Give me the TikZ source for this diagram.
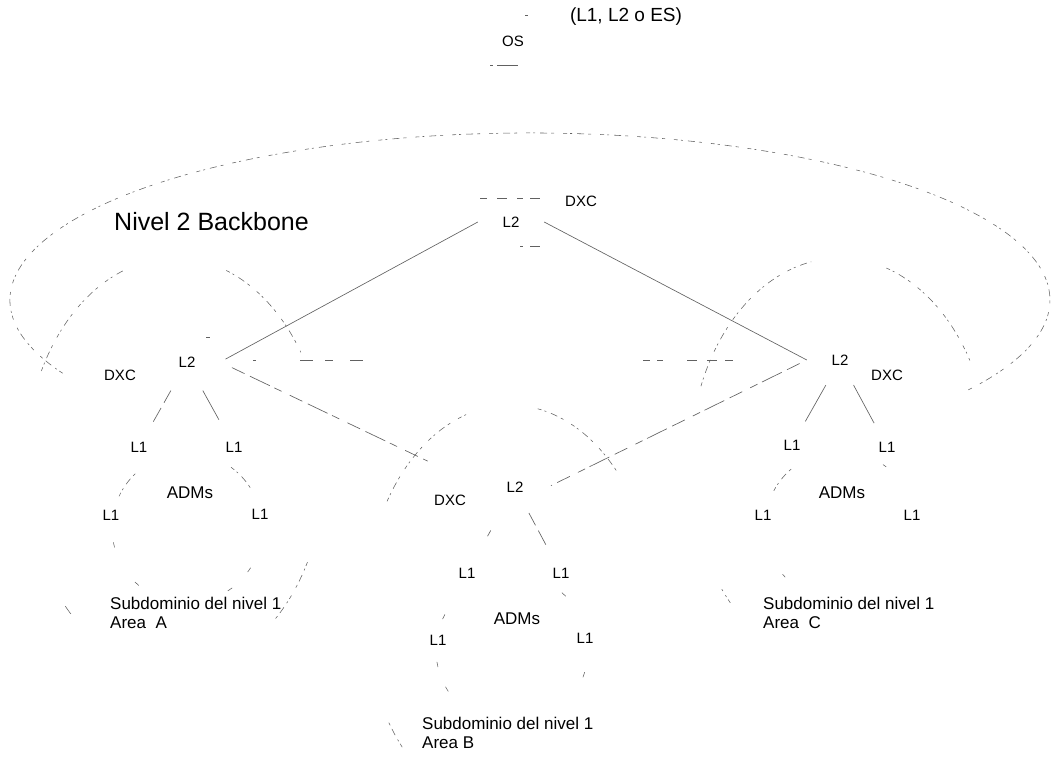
\documentclass[tikz,border=0pt]{standalone}
\usepackage{fontspec}
\setmainfont{Liberation Sans}
\newcommand\ellarc[7][ell]{\draw[#1] ({#2+#4*cos(#6)},{#3+#5*sin(#6)}) arc[start angle=#6,end angle=#7,x radius=#4,y radius=#5];}
\begin{document}
\begin{tikzpicture}[x=1pt,y=-1pt,
  ell/.style={draw=black!62, line width=0.55pt, dash pattern=on 4pt off 3pt on 2pt off 5pt on 7pt off 4pt on 3pt off 9pt},
  tick/.style={draw=black!62, line width=0.55pt},
  conn/.style={draw=black!62, line width=0.65pt},
  brk/.style={draw=black!62, line width=0.65pt, dash pattern=on 14pt off 6pt on 22pt off 5pt on 8pt off 9pt},
  frag/.style={draw=black!62, line width=0.55pt},
  lab/.style={inner sep=0pt, font=\fontsize{15}{17}\selectfont},
  big/.style={inner sep=0pt, font=\fontsize{17}{19}\selectfont},
  box/.style={inner sep=0pt, minimum width=66pt, minimum height=48pt, font=\fontsize{15}{17}\selectfont},
]
\useasboundingbox (0,0) rectangle (1055,757);

% ---- text nodes
\node[box, minimum width=48pt, minimum height=50pt] (os) at (513,41) {OS};
\node[inner sep=0pt, font=\fontsize{19}{21}\selectfont] (ann) at (626,17) {(L1, L2 o ES)};
\node[inner sep=0pt, font=\fontsize{25}{28}\selectfont, anchor=west] (nivel) at (114,222) {Nivel 2 Backbone};

\node[box] (tl2) at (511,222) {L2};
\node[lab] (tdxc) at (581,201) {DXC};
\node[box] (ll2) at (187,362) {L2};
\node[lab] (ldxc) at (120,375) {DXC};
\node[box] (rl2) at (840,360) {L2};
\node[lab] (rdxc) at (887,375) {DXC};
\node[box] (ml2) at (515,487) {L2};
\node[lab] (mdxc) at (450,500) {DXC};

\node[lab] (a1) at (139,447) {L1};
\node[lab] (a2) at (234,447) {L1};
\node[lab] (a3) at (111,515) {L1};
\node[lab] (a4) at (260,514) {L1};
\node[big] (aadm) at (190,493) {ADMs};
\node[lab] (b1) at (467,573) {L1};
\node[lab] (b2) at (561,573) {L1};
\node[lab] (b3) at (438,640) {L1};
\node[lab] (b4) at (585,638) {L1};
\node[big] (badm) at (517,619) {ADMs};
\node[lab] (c1) at (792,445) {L1};
\node[lab] (c2) at (887,447) {L1};
\node[lab] (c3) at (763,515) {L1};
\node[lab] (c4) at (912,515) {L1};
\node[big] (cadm) at (842,493) {ADMs};

\node[big, anchor=base west] (sa) at (110,609) {Subdominio del nivel 1};
\node[big, anchor=base west] (aa) at (110,628) {Area~~A};
\node[big, anchor=base west] (sb) at (422,729) {Subdominio del nivel 1};
\node[big, anchor=base west] (ab) at (422,748) {Area B};
\node[big, anchor=base west] (sc) at (763,609) {Subdominio del nivel 1};
\node[big, anchor=base west] (ac) at (763,628) {Area~~C};

% ---- backbone connectors
\draw[conn, shorten >=6pt] (tl2.west) -- (ll2.east);
\draw[conn] (tl2.east) -- (rl2.west);
\draw[brk, shorten <=13pt, shorten >=60pt] (ll2.east) -- (ml2.west);
\draw[brk, shorten <=8pt, shorten >=3pt] (rl2.west) -- (ml2.east);

% ---- L2 to L1 connectors
\draw[brk, shorten <=5pt, shorten >=23pt] (ll2) -- (a1);
\draw[conn, shorten <=5pt, shorten >=25pt] (ll2) -- (a2);
\draw[conn, shorten <=22pt, shorten >=36pt] (ml2) -- (b1);
\draw[brk, shorten <=2pt, shorten >=26pt] (ml2) -- (b2);
\draw[conn, shorten <=1pt, shorten >=21pt] (rl2) -- (c1);
\draw[conn, shorten <=1pt, shorten >=21pt] (rl2) -- (c2);

% ---- horizontal fragments
\draw[frag, dash pattern=on 3pt off 44pt on 13pt off 12pt on 8pt off 17pt on 13pt off 99pt] (253,360) -- (366,360);
\draw[frag, dash pattern=on 7pt off 7pt on 6pt off 24pt on 10pt off 10pt on 10pt off 8pt on 8pt off 99pt] (643,360) -- (733,360);

% ---- box fragments
\draw[frag, dash pattern=on 7pt off 10pt on 10pt off 10pt on 6pt off 7pt on 10pt off 99pt] (480,198) -- (541,198);
\draw[frag, dash pattern=on 3pt off 7pt on 10pt off 99pt] (520,246) -- (541,246);
\draw[frag] (525,15) -- (528,15);
\draw[frag, dash pattern=on 3pt off 4pt on 21pt off 99pt] (490,65) -- (518,65);
\draw[frag] (206,337) -- (210,337);

% ---- backbone ellipse
\ellarc{530}{300}{520}{167}{154}{393}
% ---- area ellipses
\ellarc{175}{465}{150}{207}{207}{250}
\ellarc{175}{465}{150}{207}{290}{327}
\ellarc{175}{465}{150}{207}{28}{50}
\ellarc[tick]{175}{465}{150}{207}{134}{137}
\ellarc{510}{610}{145}{205}{212}{253}
\ellarc{510}{610}{145}{205}{281}{319}
\ellarc{510}{610}{145}{205}{138}{147}
\ellarc{840}{463}{150}{205}{202}{259}
\ellarc{840}{463}{150}{205}{288}{330}
\ellarc{840}{463}{150}{205}{137}{142}
% ---- ADM rings
\ellarc{187}{528}{75}{75}{205}{232}
\ellarc{187}{528}{75}{75}{306}{332}
\ellarc[tick]{187}{528}{75}{75}{165}{169}
\ellarc[tick]{187}{528}{75}{75}{130}{134}
\ellarc[tick]{187}{528}{75}{75}{32}{36}
\ellarc[tick]{187}{528}{75}{75}{53}{57}
\ellarc[tick]{512}{650}{76}{76}{204}{208}
\ellarc[tick]{512}{650}{76}{76}{311}{315}
\ellarc[tick]{512}{650}{76}{76}{167}{171}
\ellarc[tick]{512}{650}{76}{76}{147}{151}
\ellarc[tick]{512}{650}{76}{76}{17}{21}
\ellarc{840}{526}{75}{75}{208}{231}
\ellarc[tick]{840}{526}{75}{75}{305}{308}
\ellarc[tick]{840}{526}{75}{75}{137}{140}
\end{tikzpicture}
\end{document}
